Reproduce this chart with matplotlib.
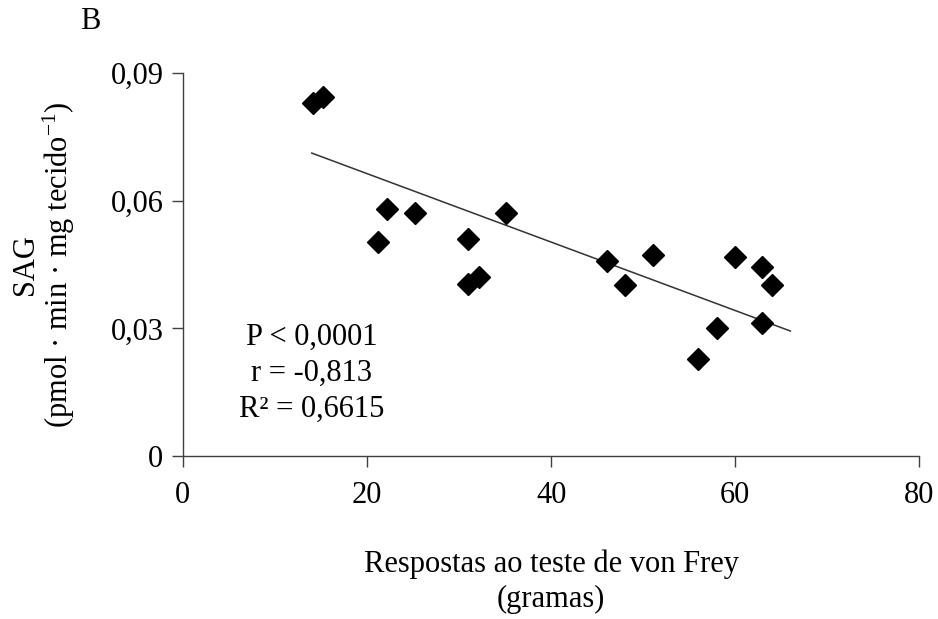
import numpy as np
import matplotlib
matplotlib.use('Agg')
import matplotlib.pyplot as plt

plt.rcParams['font.family'] = ['Liberation Serif', 'DejaVu Serif']
plt.rcParams['mathtext.default'] = 'regular'

# Data (von Frey response, SAG activity)
von_frey = [14.1, 15.2, 21.2, 22.2, 25.2, 31.0, 31.0, 32.2, 35.1,
            46.1, 48.0, 51.1, 56.0, 58.0, 60.0, 62.9, 62.9, 64.0]
sag = [0.0830, 0.0844, 0.0503, 0.0580, 0.0571, 0.0510, 0.0404, 0.0421, 0.0571,
       0.0458, 0.0402, 0.0472, 0.0228, 0.0301, 0.0468, 0.0444, 0.0313, 0.0402]
# trend line ends as drawn in the reference
trend_x = [14, 66]
trend_y = [0.0712, 0.0294]
x_ticks = [0, 20, 40, 60, 80]
y_ticks = [0, 0.03, 0.06, 0.09]
y_ticklabels = ['0', '0,03', '0,06', '0,09']
stats_text = ['P < 0,0001', 'r = -0,813', 'R² = 0,6615']

fs = 22

fig = plt.figure(figsize=(9.38, 6.19), dpi=100)
ax = fig.add_axes([0.195, 0.263, 0.785, 0.619])

ax.plot(trend_x, trend_y, color='#333333', lw=1.1, zorder=2)
ax.plot(von_frey, sag, linestyle='none', marker='D', ms=11, color='black', zorder=3)

ax.set_xlim(0, 80)
ax.set_ylim(0, 0.09)
ax.set_xticks(x_ticks)
ax.set_yticks(y_ticks)
ax.set_yticklabels(y_ticklabels)
ax.tick_params(labelsize=fs, length=8, width=1, color='#404040', direction='out')
ax.tick_params(axis='x', pad=10)
ax.tick_params(axis='y', pad=6)

for side in ['top', 'right']:
    ax.spines[side].set_visible(False)
for side in ['left', 'bottom']:
    ax.spines[side].set_color('#404040')
    ax.spines[side].set_linewidth(1)

ax.set_xlabel('Respostas ao teste de von Frey\n(gramas)', fontsize=fs, labelpad=28,
              linespacing=1.3)
ax.set_ylabel('SAG\n(pmol · min · mg tecido$^{-1}$)', fontsize=fs, labelpad=24,
              linespacing=1.05)

for i, t in enumerate(stats_text):
    ax.text(14.0, 0.0280 - i * 0.0085, t, fontsize=fs, ha='center', va='center')

fig.text(0.096, 0.965, 'B', fontsize=fs, ha='center', va='center')

fig.savefig('out.png', dpi=100)
